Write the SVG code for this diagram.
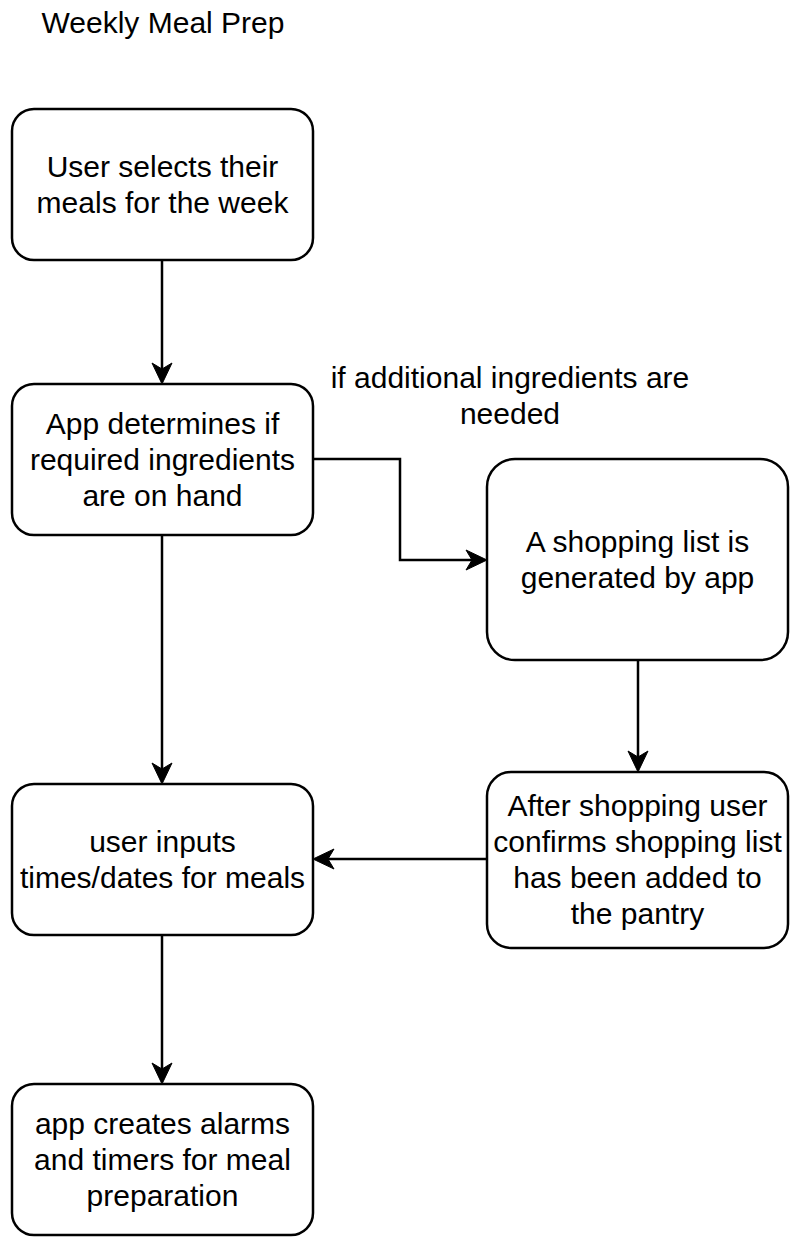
<svg xmlns="http://www.w3.org/2000/svg" width="791" height="1239" viewBox="0 0 791 1239">
<style>
.box{fill:#fff;stroke:#000;stroke-width:2.5}
.t{font-family:"Liberation Sans",Arial,sans-serif;font-size:30px;fill:#000;text-anchor:middle}
.c{fill:none;stroke:#000;stroke-width:2.5}
</style>
<defs>
<marker id="arr" markerUnits="userSpaceOnUse" markerWidth="40" markerHeight="40" viewBox="-20 -20 40 40" refX="0" refY="0" orient="auto" overflow="visible">
<path d="M 10 0 L -11 -10 L -5 0 L -11 10 Z" fill="#000" stroke="#000" stroke-width="1"/>
</marker>
</defs>
<rect width="791" height="1239" fill="#fff"/>
<text class="t" x="163" y="33">Weekly Meal Prep</text>
<g id="connectors">
<path class="c" d="M162 260 V374" marker-end="url(#arr)"/>
<path class="c" d="M313 459 H400 V560 H477" marker-end="url(#arr)"/>
<path class="c" d="M162 535 V774" marker-end="url(#arr)"/>
<path class="c" d="M638 660 V762" marker-end="url(#arr)"/>
<path class="c" d="M487 859 H323" marker-end="url(#arr)"/>
<path class="c" d="M162 935 V1074" marker-end="url(#arr)"/>
<text class="t" x="510" y="388">if additional ingredients are</text>
<text class="t" x="510" y="424">needed</text>
</g>
<g id="n1">
<rect class="box" x="12" y="109" width="301" height="151" rx="22"/>
<text class="t" x="162.5" y="177">User selects their</text>
<text class="t" x="162.5" y="213">meals for the week</text>
</g>
<g id="n2">
<rect class="box" x="12" y="384" width="301" height="151" rx="22"/>
<text class="t" x="162.5" y="434">App determines if</text>
<text class="t" x="162.5" y="470">required ingredients</text>
<text class="t" x="162.5" y="506">are on hand</text>
</g>
<g id="n3">
<rect class="box" x="487" y="459" width="301" height="201" rx="28"/>
<text class="t" x="637.5" y="552">A shopping list is</text>
<text class="t" x="637.5" y="588">generated by app</text>
</g>
<g id="n4">
<rect class="box" x="12" y="784" width="301" height="151" rx="22"/>
<text class="t" x="162.5" y="852">user inputs</text>
<text class="t" x="162.5" y="888">times/dates for meals</text>
</g>
<g id="n5">
<rect class="box" x="487" y="772" width="301" height="176" rx="24"/>
<text class="t" x="637.5" y="816">After shopping user</text>
<text class="t" x="637.5" y="852">confirms shopping list</text>
<text class="t" x="637.5" y="888">has been added to</text>
<text class="t" x="637.5" y="924">the pantry</text>
</g>
<g id="n6">
<rect class="box" x="12" y="1084" width="301" height="151" rx="22"/>
<text class="t" x="162.5" y="1134">app creates alarms</text>
<text class="t" x="162.5" y="1170">and timers for meal</text>
<text class="t" x="162.5" y="1206">preparation</text>
</g>
</svg>
